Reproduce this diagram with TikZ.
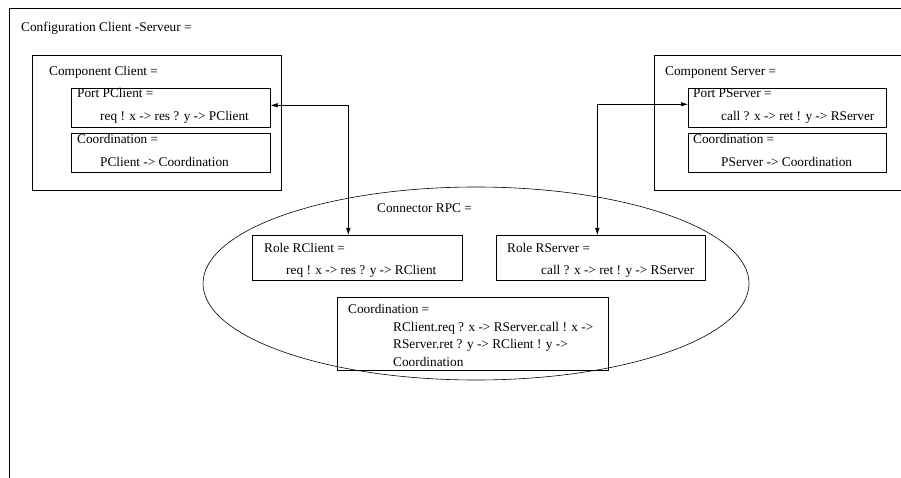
\documentclass[tikz,border=0pt]{standalone}
\usepackage{fontspec}
\setmainfont{Liberation Serif}
\usetikzlibrary{arrows.meta}
\begin{document}
\begin{tikzpicture}[x=1pt,y=-1pt,
  frame/.style={draw,line width=0.8pt},
  box/.style={draw,line width=0.6pt,rectangle,anchor=north west,inner sep=0pt},
  lbl/.style={anchor=base west,inner sep=0pt,font=\fontsize{13.3}{15}\selectfont},
  conn/.style={line width=0.6pt,{Latex[length=7pt,width=4.5pt]}-{Latex[length=7pt,width=4.5pt]}}]
\useasboundingbox (0,0) rectangle (901,478);
\draw[frame] (9,480) -- (9,8) -- (903,8);
\node[lbl] (title) at (21,31.5) {Configuration Client -Serveur =};
% Component Client
\node[box,minimum width=249pt,minimum height=135pt] (cclient) at (32,55) {};
\node[lbl] (cclientl) at (49,76) {Component Client =};
\node[box,minimum width=199pt,minimum height=39pt] (pclient) at (71,88) {};
\node[lbl] (pclientl) at (77,98) {Port PClient =};
\node[lbl] (pclientt) at (100,121) {req ! x -> res ? y -> PClient};
\node[box,minimum width=199pt,minimum height=39pt] (cocl) at (71,133) {};
\node[lbl] (cocll) at (77,144) {Coordination =};
\node[lbl] (coclt) at (100,167) {PClient -> Coordination};
% Component Server
\node[box,minimum width=247pt,minimum height=135pt] (cserver) at (654,55) {};
\node[lbl] (cserverl) at (665,76) {Component Server =};
\node[box,minimum width=198pt,minimum height=39pt] (pserver) at (688,88) {};
\node[lbl] (pserverl) at (693,98) {Port PServer =};
\node[lbl] (pservert) at (721,121) {call ? x -> ret ! y -> RServer};
\node[box,minimum width=198pt,minimum height=39pt] (cosv) at (688,133) {};
\node[lbl] (cosvl) at (693,144) {Coordination =};
\node[lbl] (cosvt) at (721,167) {PServer -> Coordination};
% Connector
\draw[line width=0.6pt] (476,283.5) ellipse [x radius=273, y radius=96.5];
\node[lbl] (rpcl) at (377,213) {Connector RPC =};
\node[box,minimum width=210pt,minimum height=45pt] (rclient) at (252,235) {};
\node[lbl] (rclientl) at (264,252) {Role RClient =};
\node[lbl] (rclientt) at (286,274) {req ! x -> res ? y -> RClient};
\node[box,minimum width=209pt,minimum height=45pt] (rserver) at (496,235) {};
\node[lbl] (rserverl) at (507,252) {Role RServer =};
\node[lbl] (rservert) at (541,274) {call ? x -> ret ! y -> RServer};
\node[box,minimum width=271pt,minimum height=73pt] (corpc) at (337,297) {};
\node[lbl] (corpcl) at (348,313) {Coordination =};
\node[lbl] (corpc1) at (393,331) {RClient.req ? x -> RServer.call ! x ->};
\node[lbl] (corpc2) at (393,348) {RServer.ret ? y -> RClient ! y ->};
\node[lbl] (corpc3) at (393,366) {Coordination};
% connections
\draw[conn] ([yshift=2.5pt]pclient.east) -| ([xshift=-9pt]rclient.north);
\draw[conn] ([yshift=3.5pt]pserver.west) -| ([xshift=-3.5pt]rserver.north);
\end{tikzpicture}
\end{document}
